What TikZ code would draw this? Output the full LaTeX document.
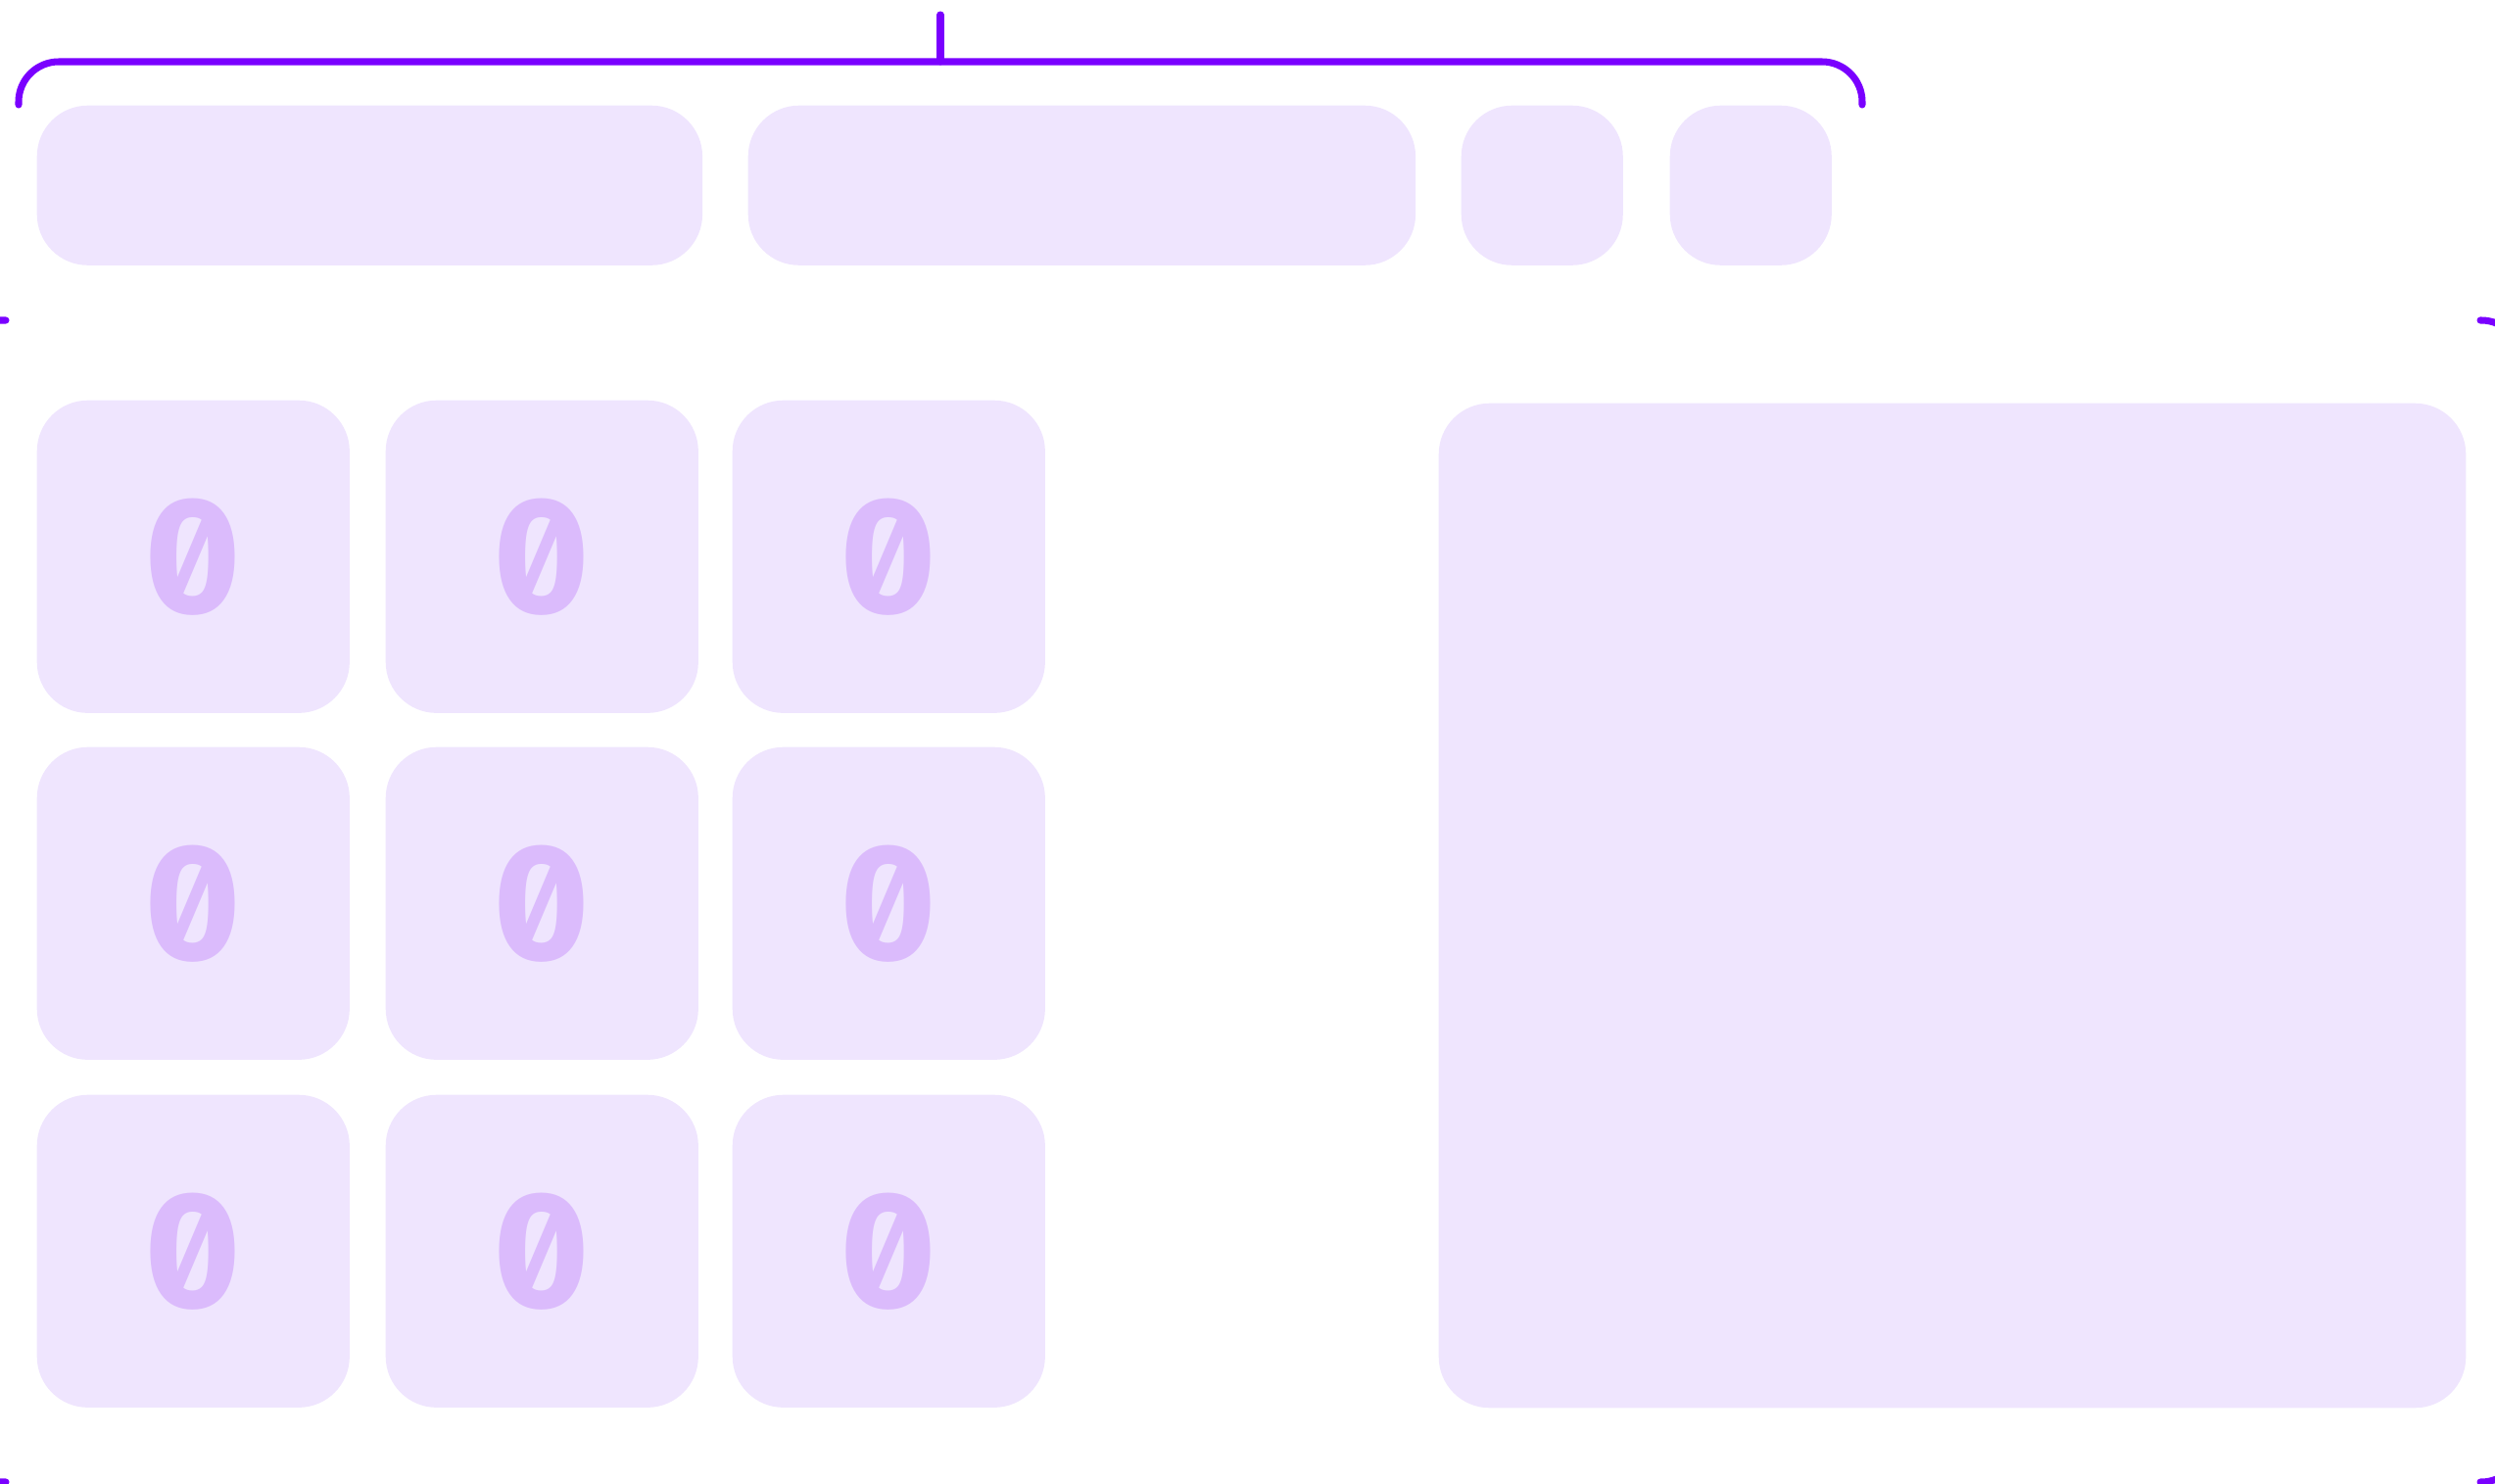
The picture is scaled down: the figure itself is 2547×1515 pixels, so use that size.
\documentclass[tikz,border=0pt]{standalone}
\usepackage{fontspec}
\usepackage{xcolor}
\usepackage{tikz}
\usetikzlibrary{positioning,calc}
\newfontfamily\zerofont[RawFeature=+zero]{Fira Sans}
\definecolor{slot}{HTML}{EFE5FE}
\definecolor{brace}{HTML}{7A00FF}
\definecolor{glyph}{HTML}{DBBBFC}

\tikzset{
  slotbox/.style={fill=slot, draw=none, rounded corners=0.52cm, anchor=north west,
    inner sep=0pt, minimum height=#1},
  slotbox/.default=1.63cm,
  bracket/.style={draw=brace, line width=2pt, line cap=round, rounded corners=0.41cm},
  zerotext/.style={text=glyph, font=\zerofont\bfseries\fontsize{48}{48}\selectfont}
}

\begin{document}
\begin{tikzpicture}[x=0.01cm, y=-0.01cm]
  \useasboundingbox (0,0) rectangle (2547,1515);
  \clip (0,0) rectangle (2547,1515);

  % Top row of slots
  \node[slotbox, minimum width=6.79cm] (tabA) at (37,107) {};
  \node[slotbox, minimum width=6.81cm] (tabB) at (763,107) {};
  \node[slotbox, minimum width=1.65cm] (tabC) at (1491,107) {};
  \node[slotbox, minimum width=1.65cm] (tabD) at (1704,107) {};

  % Bracket over the top row
  \draw[bracket] (19,107) -- (19,63) -- (1901,63) -- (1901,107);
  \draw[bracket, rounded corners=0pt] (960,15) -- (960,63);

  % Grid of empty cells
  \foreach \col/\x in {1/37, 2/393, 3/747} {
    \foreach \row/\y in {1/408, 2/762, 3/1117} {
      \node[slotbox=3.19cm, minimum width=3.19cm] (cell\row\col) at (\x,\y) {};
      \node[zerotext] (zero\row\col) at (cell\row\col.center) {0};
    }
  }

  % Large panel
  \node[slotbox=10.25cm, minimum width=10.48cm] (panel) at (1468,411) {};

  % Side brackets (cut by the edges)
  \draw[bracket] (6,327) -- (-45,327) -- (-45,1513) -- (6,1513);
  \draw[bracket] (2532,327) -- (2574,327) -- (2574,1513) -- (2532,1513);
\end{tikzpicture}
\end{document}
